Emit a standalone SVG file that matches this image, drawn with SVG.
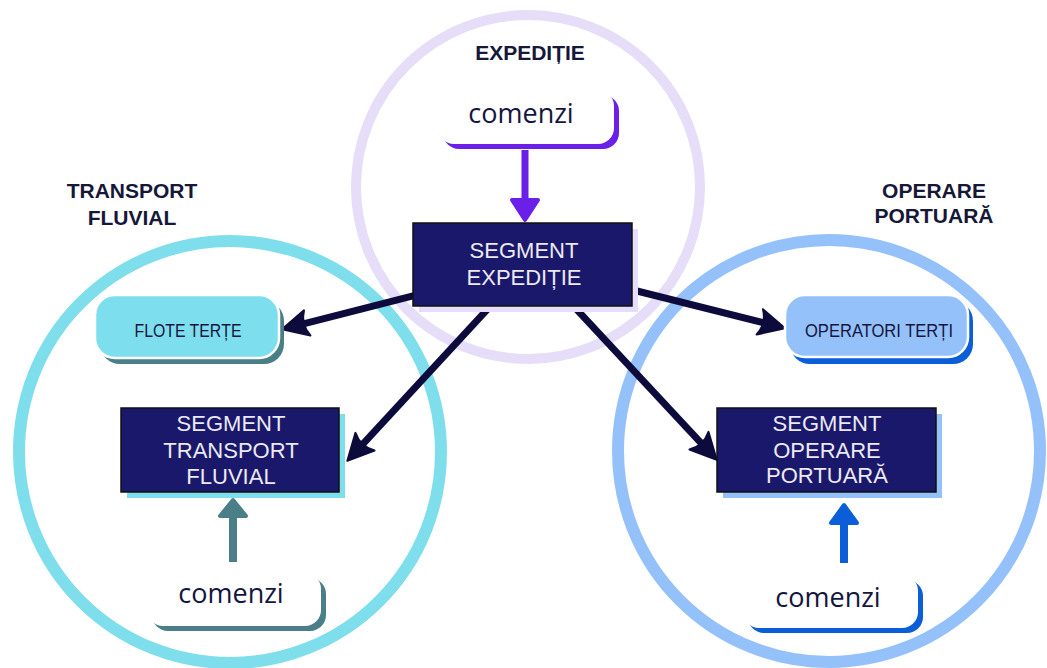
<svg xmlns="http://www.w3.org/2000/svg" width="1047" height="668" viewBox="0 0 1047 668">
<style>
.ring{fill:none}
.title{font-family:"Liberation Sans",Arial,sans-serif;font-weight:bold;font-size:21px;fill:#151838;text-anchor:middle}
.seg{fill:#1a186a;stroke:#111;stroke-width:1.5}
.segt{font-family:"Liberation Sans",Arial,sans-serif;font-size:22px;fill:#ece9f3;text-anchor:middle}
.lbl{font-family:"Liberation Sans",Arial,sans-serif;font-size:18px;fill:#14163f;text-anchor:middle}
.cmd{font-family:"Open Sans","Liberation Sans",sans-serif;font-size:27px;fill:#14163f;text-anchor:middle}
.conn{fill:none;stroke:#0d0a3c;stroke-width:7}
</style>
<defs>
<marker id="ah" viewBox="0 0 30 30" refX="11" refY="15" markerWidth="30" markerHeight="30" markerUnits="userSpaceOnUse" orient="auto">
<path d="M2,2 L28,15 L2,28 Q9,15 2,2 Z" fill="#0d0a3c" stroke="#0d0a3c" stroke-width="2" stroke-linejoin="round"/>
</marker>
</defs>
<rect width="1047" height="668" fill="#ffffff"/>
<g id="circles">
<circle class="ring" cx="528" cy="187" r="172" stroke="#e6ddf9" stroke-width="10"/>
<circle class="ring" cx="230" cy="452" r="211" stroke="#7fdeeb" stroke-width="12"/>
<circle class="ring" cx="829" cy="451" r="211" stroke="#95c1fa" stroke-width="12"/>
</g>
<g id="titles">
<text class="title" x="530" y="60">EXPEDIȚIE</text>
<text class="title" x="132" y="198">TRANSPORT</text>
<text class="title" x="132" y="225">FLUVIAL</text>
<text class="title" x="934" y="198">OPERARE</text>
<text class="title" x="934" y="223">PORTUARĂ</text>
</g>
<g id="connectors">
<path class="conn" d="M416,295.2 L298.5,325.1" marker-end="url(#ah)"/>
<path class="conn" d="M489.4,307.1 L358.9,448.3" marker-end="url(#ah)"/>
<path class="conn" d="M633,290 L768.5,324.1" marker-end="url(#ah)"/>
<path class="conn" d="M574.5,307.1 L705.1,447.3" marker-end="url(#ah)"/>
<g id="arrow-top" fill="#6a20e8" stroke="#6a20e8">
<rect x="521.5" y="150" width="7" height="52" stroke="none"/>
<polygon points="512,200 538,200 525,220" stroke-width="4" stroke-linejoin="round"/>
</g>
<g id="arrow-left" fill="#4a7f87" stroke="#4a7f87">
<rect x="229" y="512" width="8" height="50" stroke="none"/>
<polygon points="220,516 246,516 233,500" stroke-width="4" stroke-linejoin="round"/>
</g>
<g id="arrow-right" fill="#0b5ed8" stroke="#0b5ed8">
<rect x="840" y="518" width="8" height="45" stroke="none"/>
<polygon points="831,523 857,523 844,505" stroke-width="4" stroke-linejoin="round"/>
</g>
</g>
<g id="node-comenzi-top">
<rect x="443" y="95" width="176" height="54" rx="16" fill="#6a20e8"/>
<rect x="438" y="90" width="176" height="54" rx="16" fill="#ffffff"/>
<text class="cmd" x="521" y="123">comenzi</text>
</g>
<g id="node-segment-expeditie">
<rect x="419" y="229" width="219" height="83" fill="#e5ddf9"/>
<rect class="seg" x="413" y="223" width="219" height="83"/>
<text class="segt" x="524" y="258">SEGMENT</text>
<text class="segt" x="524" y="285">EXPEDIȚIE</text>
</g>
<g id="node-flote-terte">
<rect x="100" y="301" width="184" height="63" rx="20" fill="#4a7f87"/>
<rect x="95" y="295" width="184" height="63" rx="20" fill="#7ddfee" stroke="#ffffff" stroke-width="2.5"/>
<text class="lbl" x="188" y="337" textLength="107" lengthAdjust="spacingAndGlyphs">FLOTE TERȚE</text>
</g>
<g id="node-operatori-terti">
<rect x="790" y="301" width="183" height="63" rx="20" fill="#0b5ed8"/>
<rect x="785" y="295" width="183" height="62" rx="20" fill="#95c1fa" stroke="#ffffff" stroke-width="2.5"/>
<text class="lbl" x="879" y="337" textLength="148" lengthAdjust="spacingAndGlyphs">OPERATORI TERȚI</text>
</g>
<g id="node-segment-transport">
<rect x="127" y="414" width="218" height="84" fill="#7fdeeb"/>
<rect class="seg" x="121" y="408" width="218" height="84"/>
<text class="segt" x="231" y="431">SEGMENT</text>
<text class="segt" x="231" y="458">TRANSPORT</text>
<text class="segt" x="231" y="484">FLUVIAL</text>
</g>
<g id="node-segment-operare">
<rect x="723" y="414" width="219" height="84" fill="#95c1fa"/>
<rect class="seg" x="717" y="408" width="219" height="84"/>
<text class="segt" x="827" y="431">SEGMENT</text>
<text class="segt" x="827" y="458">OPERARE</text>
<text class="segt" x="827" y="483">PORTUARĂ</text>
</g>
<g id="node-comenzi-left">
<rect x="152" y="578" width="174" height="53" rx="16" fill="#4a7f87"/>
<rect x="147" y="573" width="174" height="53" rx="16" fill="#ffffff"/>
<text class="cmd" x="231" y="603">comenzi</text>
</g>
<g id="node-comenzi-right">
<rect x="748" y="580" width="175" height="53" rx="16" fill="#0b5ed8"/>
<rect x="743" y="575" width="175" height="53" rx="16" fill="#ffffff"/>
<text class="cmd" x="828" y="607">comenzi</text>
</g>
</svg>
